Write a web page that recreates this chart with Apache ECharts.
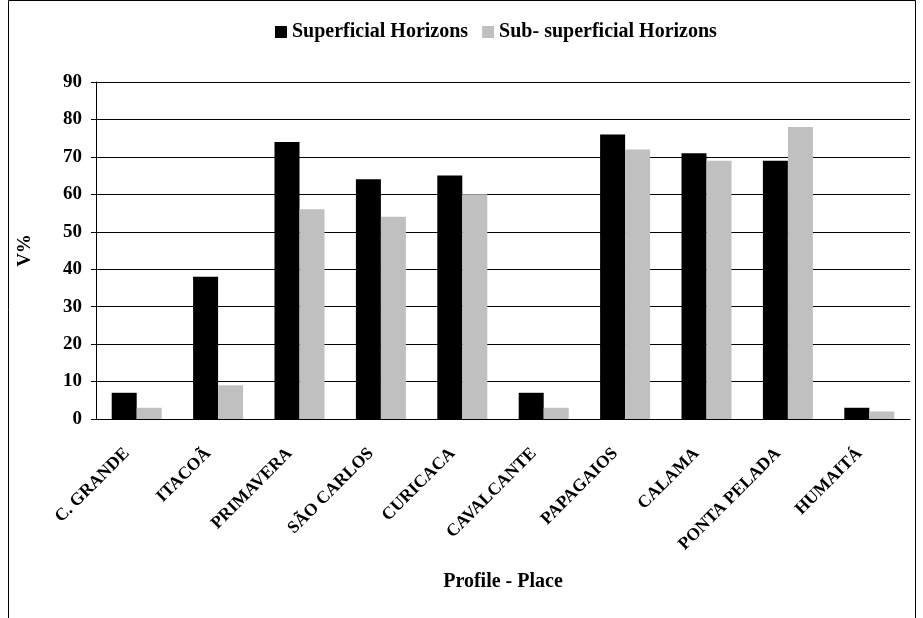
<!DOCTYPE html>
<html>
<head>
<meta charset="utf-8">
<style>
  html, body { margin: 0; padding: 0; background: #fff; }
  #chart { width: 923px; height: 618px; }
</style>
<script src="https://cdn.jsdelivr.net/npm/echarts@6/dist/echarts.min.js"></script>
</head>
<body>
<div id="chart"></div>
<script>
// profile places
const places = ['C. GRANDE', 'ITACOÃ', 'PRIMAVERA', 'SÃO CARLOS', 'CURICACA',
    'CAVALCANTE', 'PAPAGAIOS', 'CALAMA', 'PONTA PELADA', 'HUMAITÁ'];
// V% values
const superficial = [7, 38, 74, 64, 65, 7, 76, 71, 69, 3];
const subSuperficial = [3, 9, 56, 54, 60, 3, 72, 69, 78, 2];
const yTicks = [0, 10, 20, 30, 40, 50, 60, 70, 80, 90];

const font = '"Liberation Serif", "Times New Roman", serif';

var myChart = echarts.init(document.getElementById('chart'));
var option = {
    animation: false,
    backgroundColor: '#fff',
    graphic: [{
        type: 'rect',
        shape: { x: 8.5, y: 0.5, width: 907, height: 640 },
        style: { fill: 'none', stroke: '#000', lineWidth: 1 },
        silent: true
    }],
    legend: {
        top: 17,
        left: 270,
        itemWidth: 12,
        itemHeight: 12,
        itemGap: 14,
        icon: 'rect',
        textStyle: { fontFamily: font, fontWeight: 'bold', fontSize: 20, color: '#000' },
        data: ['Superficial Horizons', 'Sub- superficial Horizons']
    },
    grid: { left: 96, right: 13, top: 82, bottom: 199 },
    xAxis: {
        type: 'category',
        data: places,
        name: 'Profile - Place',
        nameLocation: 'middle',
        nameGap: 153,
        nameTextStyle: { fontFamily: font, fontWeight: 'bold', fontSize: 20, color: '#000' },
        axisLine: { lineStyle: { color: '#000' } },
        axisTick: { show: false },
        axisLabel: {
            rotate: 45,
            interval: 0,
            margin: 22,
            padding: [0, 14, 0, 0],
            fontFamily: font,
            fontWeight: 'bold',
            fontSize: 17.5,
            color: '#000'
        }
    },
    yAxis: {
        type: 'value',
        min: 0,
        max: 90,
        interval: 10,
        name: 'V%',
        nameLocation: 'middle',
        nameGap: 61,
        nameTextStyle: { fontFamily: font, fontWeight: 'bold', fontSize: 19, color: '#000' },
        axisLine: { show: true, lineStyle: { color: '#000' } },
        axisTick: { show: true, length: 5, lineStyle: { color: '#000' } },
        splitLine: { lineStyle: { color: '#000', width: 1 } },
        axisLabel: {
            margin: 14,
            fontFamily: font,
            fontWeight: 'bold',
            fontSize: 19,
            color: '#000',
            formatter: v => yTicks.includes(v) ? String(v) : ''
        }
    },
    series: [{
        name: 'Superficial Horizons',
        type: 'bar',
        data: superficial,
        barWidth: 25,
        barGap: '0%',
        itemStyle: { color: '#000' }
    }, {
        name: 'Sub- superficial Horizons',
        type: 'bar',
        data: subSuperficial,
        barWidth: 25,
        barGap: '0%',
        itemStyle: { color: '#c0c0c0' }
    }]
};
myChart.setOption(option);
</script>
</body>
</html>
